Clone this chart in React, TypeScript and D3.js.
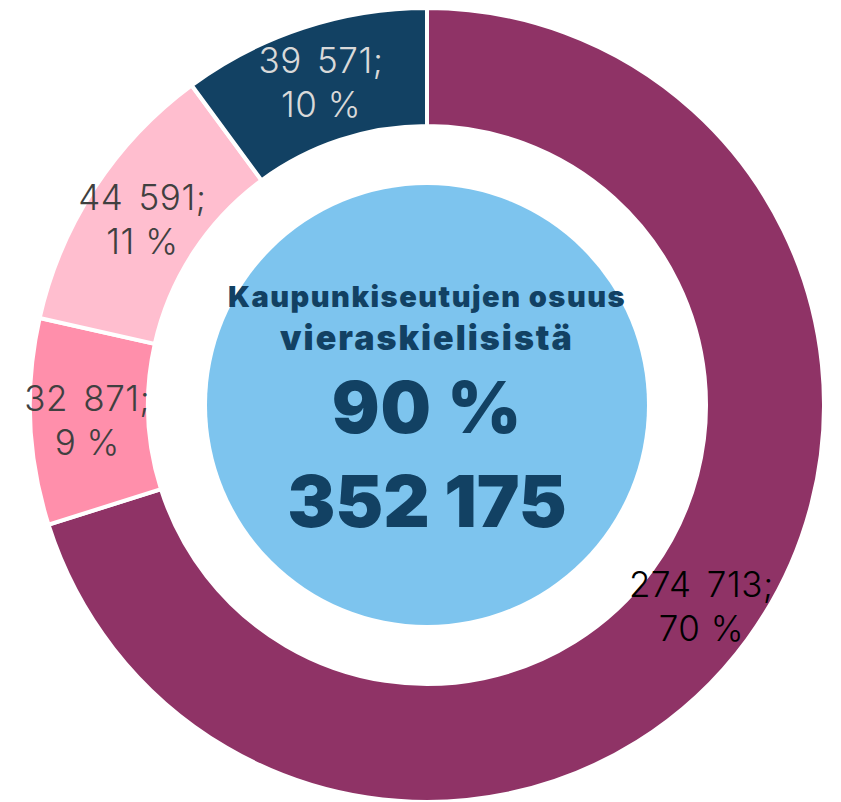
import React from "react";
import * as d3 from "d3";

const categories = ["Kaupunkiseutu A", "Kaupunkiseutu B", "Kaupunkiseutu C", "Muut"];
const values = [274713, 32871, 44591, 39571];
const percents = [70, 9, 11, 10];
const colors = ["#8F3366", "#FF8FAB", "#FFBECF", "#124163"];
const labelColors = ["#000000", "#404040", "#404040", "#D9D9D9"];
const centerTitle = ["Kaupunkiseutujen osuus", "vieraskielisistä"];
const centerPercent = 90;
const centerTotal = 352175;

const W = 841;
const H = 802;
const cx = 427;
const cy = 405;
const rOuter = 397;
const rInner = 279;
const rCenter = 220;

const locale = d3.formatLocale({ decimal: ",", thousands: " ", grouping: [3], currency: ["", " €"] });
const fmt = locale.format(",d");

export default function App() {
  const pie = d3.pie<number>().sort(null).value((d) => d)(values);
  const arc = d3.arc<d3.PieArcDatum<number>>().innerRadius(rInner).outerRadius(rOuter);
  const labelArc = d3.arc<d3.PieArcDatum<number>>().innerRadius(340).outerRadius(340);
  return (
    <svg width={W} height={H} style={{ position: "absolute", left: 0, top: 0 }}>
      <g transform={`translate(${cx},${cy})`}>
        {pie.map((p, i) => (
          <path key={categories[i]} d={arc(p) || ""} fill={colors[i]} stroke="#fff" strokeWidth={4} />
        ))}
        <circle r={rCenter} fill="#7DC4EE" />
        {pie.map((p, i) => {
          const [x, y] = labelArc.centroid(p);
          const parts = fmt(values[i]).split(" ");
          return (
            <text key={"l" + i} x={x} y={y} textAnchor="middle" fontFamily="Inter" fontWeight={300} fontSize={35} letterSpacing={0.5} fill={labelColors[i]}>
              <tspan x={x} dy={-9}>
                {parts.map((s, j) => (
                  <tspan key={j} dx={j > 0 ? 5 : 0}>{(j > 0 ? " " : "") + s}</tspan>
                ))}
                {";"}
              </tspan>
              <tspan x={x} dy={44}>{percents[i] + " %"}</tspan>
            </text>
          );
        })}
        <text textAnchor="middle" fontFamily="Inter" fontWeight={900} fill="#124163">
          <tspan x={0} y={-98} fontSize={29} letterSpacing={1.5}>{centerTitle[0]}</tspan>
          <tspan x={0} y={-55} fontSize={34} letterSpacing={2}>{centerTitle[1]}</tspan>
          <tspan x={0} y={28} fontSize={71} letterSpacing={1}>{centerPercent + " %"}</tspan>
          <tspan x={0} y={122} fontSize={72}>{fmt(centerTotal)}</tspan>
        </text>
      </g>
    </svg>
  );
}
